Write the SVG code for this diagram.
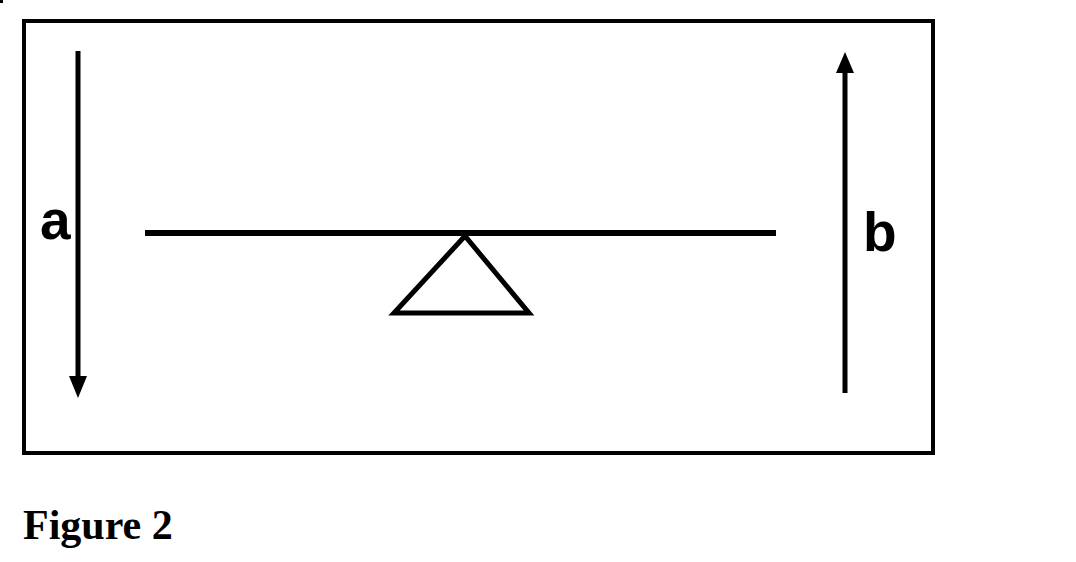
<svg xmlns="http://www.w3.org/2000/svg" width="1076" height="562" viewBox="0 0 1076 562">
<style>
.ln{stroke:#000;fill:none}
.lbl{font-family:"Liberation Sans",Arial,sans-serif;font-weight:bold;font-size:55px;fill:#000}
.cap{font-family:"Liberation Serif","Times New Roman",serif;font-weight:bold;font-size:42px;fill:#000}
</style>
<rect width="1076" height="562" fill="#fff"/>
<rect x="0" y="0" width="3" height="3" fill="#000"/>
<g id="frame"><rect class="ln" x="24" y="21" width="909" height="432" stroke-width="4"/></g>
<g id="lever">
<line class="ln" x1="145" y1="233" x2="776" y2="233" stroke-width="6"/>
</g>
<g id="fulcrum">
<polygon class="ln" points="465,236 394,313 529,313" stroke-width="5" stroke-linejoin="miter"/>
</g>
<g id="connectors">
<g id="arrow-a">
<line class="ln" x1="78" y1="51" x2="78" y2="380" stroke-width="5"/>
<polygon points="69,376 87,376 78,398" fill="#000"/>
</g>
<g id="arrow-b">
<line class="ln" x1="845" y1="70" x2="845" y2="393" stroke-width="5"/>
<polygon points="836,73 854,73 845,52" fill="#000"/>
</g>
</g>
<text class="lbl" x="40" y="239">a</text>
<text class="lbl" x="863" y="251">b</text>
<text class="cap" x="23" y="539">Figure 2</text>
</svg>
